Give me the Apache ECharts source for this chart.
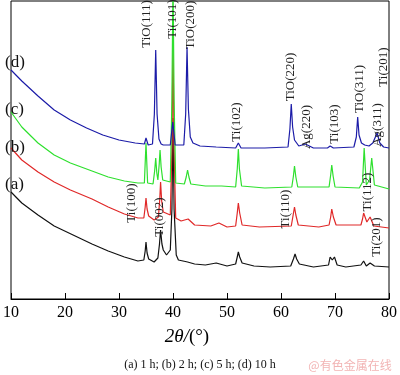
<!DOCTYPE html>
<html style="height: 100%">
<head>
<meta charset="utf-8">
</head>
<body style="height: 100%; margin: 0; background: #fff">
<div id="container" style="width: 400px; height: 375px"></div>
<script src="https://cdn.jsdelivr.net/npm/echarts@6/dist/echarts.min.js"></script>
<script type="text/javascript">
// XRD patterns, intensity in arbitrary units (offset traces)
var angleTicks = [10, 20, 30, 40, 50, 60, 70, 80];

// (a) 1 h
var curveA = [
    [10, 107], [12, 96], [15, 84], [18, 73], [21.5, 64], [25, 55], [28, 48], [31, 42],
    [33.5, 38], [34.6, 39], [34.85, 48], [35.0, 57], [35.2, 46], [35.5, 40], [36.5, 37],
    [37.2, 41], [37.5, 55], [37.7, 69], [37.95, 55], [38.2, 49], [38.8, 44], [39.5, 49],
    [39.8, 90], [40.0, 181], [40.2, 90], [40.6, 44], [41, 39], [42.7, 37],
    [44, 35], [46, 34], [48, 36], [50, 33], [51.6, 35], [51.9, 42], [52.1, 47], [52.35, 42],
    [52.8, 36], [55, 33], [58, 32], [61.8, 33], [62.3, 40], [62.6, 45], [62.9, 40], [63.4, 35],
    [66, 32], [68.8, 34], [69.1, 42], [69.5, 39], [69.9, 42], [70.4, 34], [72, 32],
    [74.8, 34], [75.3, 38], [75.8, 33], [76.5, 36], [77.3, 33], [80, 32]
];
// (b) 2 h
var curveB = [
    [10, 151], [12, 139], [15, 127], [18, 117], [21, 109], [25, 100], [28, 92], [31, 85],
    [33.5, 81], [34.6, 81], [34.85, 92], [35.0, 101], [35.2, 90], [35.5, 83], [36.5, 79],
    [37.3, 82], [37.55, 100], [37.7, 117], [37.9, 98], [38.2, 87], [39.5, 84], [39.8, 150],
    [40.0, 259], [40.2, 150], [40.5, 81], [41.5, 78], [42.8, 80], [44, 74],
    [47, 73], [48.5, 76], [50, 72], [51.6, 73], [51.9, 86], [52.1, 96], [52.35, 86], [52.8, 74],
    [56, 72], [61.9, 73], [62.25, 84], [62.5, 92], [62.75, 84], [63.2, 74], [67, 72],
    [68.9, 74], [69.2, 82], [69.4, 90], [69.7, 82], [70.2, 74], [74.8, 74], [75.1, 80],
    [75.3, 86], [75.9, 77], [76.5, 82], [77.2, 73], [80, 71]
];
// (c) 5 h
var curveC = [
    [10, 187], [12, 172], [15, 156], [18, 144], [21, 136], [25, 128], [28, 122], [31, 118],
    [33.5, 116], [34.7, 116], [35.0, 156], [35.3, 116], [36.3, 115], [36.6, 128], [36.8, 141],
    [37.0, 126], [37.2, 119], [37.45, 135], [37.6, 149], [37.8, 132], [38.1, 119], [39.5, 117],
    [39.8, 200], [40.0, 320], [40.2, 200], [40.5, 116], [42.1, 115], [42.45, 122], [42.7, 129],
    [42.95, 122], [43.3, 115], [46, 113], [49, 113], [51.6, 112], [51.9, 130], [52.1, 150],
    [52.3, 130], [52.7, 113], [57, 111], [62, 112], [62.3, 123], [62.5, 133], [62.75, 122],
    [63.1, 112], [68.9, 112], [69.2, 124], [69.4, 134], [69.65, 123], [70, 112], [74.5, 111],
    [75.1, 117], [75.4, 151], [75.8, 114], [76.4, 119], [76.8, 141], [77.3, 114], [80, 110]
];
// (d) 10 h
var curveD = [
    [10, 229], [12, 218], [15, 203], [18, 189], [21, 179], [24, 171], [27, 164], [30, 159],
    [33, 156], [34.7, 155], [35.0, 161], [35.4, 154], [36.2, 155], [36.55, 185], [36.8, 249],
    [37.05, 185], [37.4, 160], [37.8, 155], [38.2, 154], [39.5, 154], [39.95, 177], [40.4, 154],
    [42, 154], [42.35, 185], [42.6, 252], [42.85, 190], [43.2, 162], [43.7, 156],
    [45, 153], [48, 152], [51.6, 151], [52.1, 156], [52.6, 151], [57, 151], [61.3, 152],
    [61.65, 170], [61.9, 195], [62.15, 172], [62.5, 159], [63.3, 153], [64.5, 155], [66, 151],
    [68.6, 151], [69.1, 153], [69.7, 151], [73.5, 152], [73.95, 162], [74.2, 182], [74.45, 164],
    [74.9, 156], [75.5, 154], [76.3, 153], [77.0, 156], [77.8, 166], [78.3, 156], [79, 152],
    [80, 151]
];

var seriesNames = ['(a)', '(b)', '(c)', '(d)'];
var seriesColors = ['#111111', '#e02828', '#2ee02e', '#1c1ca8'];
var curves = [curveA, curveB, curveC, curveD];

// peak annotations: text, pixel x, pixel y (centre of rotated text)
var peakLabels = [
    ['TiO(111)', 147, 24], ['Ti(101)', 173, 19], ['TiO(200)', 191, 25],
    ['Ti(102)', 237, 122], ['TiO(220)', 291, 77], ['Ag(220)', 307, 127],
    ['Ti(103)', 335, 124], ['TiO(311)', 360, 89], ['Ag(311)', 378, 125],
    ['Ti(201)', 384, 67], ['Ti(100)', 132, 203], ['Ti(002)', 160, 217],
    ['Ti(110)', 286, 209], ['Ti(112)', 368, 192], ['Ti(201)', 377, 237]
];
var sampleLabelY = [185, 148, 110, 63];

var dom = document.getElementById('container');
var myChart = echarts.init(dom, null, { renderer: 'canvas' });

var graphics = [];
peakLabels.forEach(function (p) {
    graphics.push({
        type: 'text', x: p[1], y: p[2], rotation: Math.PI / 2, z: 10,
        style: {
            text: p[0], fill: '#222', font: '13px "Liberation Serif"',
            align: 'center', verticalAlign: 'middle'
        }
    });
});
seriesNames.forEach(function (n, i) {
    graphics.push({
        type: 'text', x: 5, y: sampleLabelY[i], z: 10,
        style: {
            text: n, fill: '#111', font: '17px "Liberation Serif"',
            align: 'left', verticalAlign: 'middle'
        }
    });
});
graphics.push({
    type: 'text', x: 187, y: 337,
    style: {
        text: '{i|2θ/}{r|(°)}', align: 'center', verticalAlign: 'middle',
        rich: {
            i: { font: 'italic 19px "Liberation Serif"', fill: '#000' },
            r: { font: '19px "Liberation Serif"', fill: '#000' }
        }
    }
});
graphics.push({
    type: 'text', x: 200, y: 365,
    style: {
        text: '(a) 1 h; (b) 2 h; (c) 5 h; (d) 10 h', fill: '#111',
        font: '12px "Liberation Serif"', align: 'center', verticalAlign: 'middle'
    }
});
graphics.push({
    type: 'text', x: 350, y: 365,
    style: {
        text: '@有色金属在线', fill: '#f2b4b4',
        font: '12px "Noto Sans CJK SC"', align: 'center', verticalAlign: 'middle'
    }
});

var option = {
    animation: false,
    backgroundColor: '#fff',
    grid: {
        left: 3, right: 7, top: 1, bottom: 76,
        show: true, borderColor: '#000', borderWidth: 1
    },
    xAxis: {
        type: 'value', min: angleTicks[0], max: angleTicks[angleTicks.length - 1], interval: 10,
        axisLine: { lineStyle: { color: '#000', width: 1 } },
        axisTick: { inside: true, length: 6, lineStyle: { color: '#000' } },
        axisLabel: { color: '#000', fontSize: 16, fontFamily: 'Liberation Serif', margin: 6 },
        splitLine: { show: false }
    },
    yAxis: {
        type: 'value', min: 0, max: 298, show: false, splitLine: { show: false }
    },
    series: curves.map(function (c, i) {
        return {
            name: seriesNames[i], type: 'line', data: c, showSymbol: false,
            lineStyle: { color: seriesColors[i], width: 1.2 }, clip: true
        };
    }),
    graphic: graphics
};
myChart.setOption(option, true);
</script>
</body>
</html>
